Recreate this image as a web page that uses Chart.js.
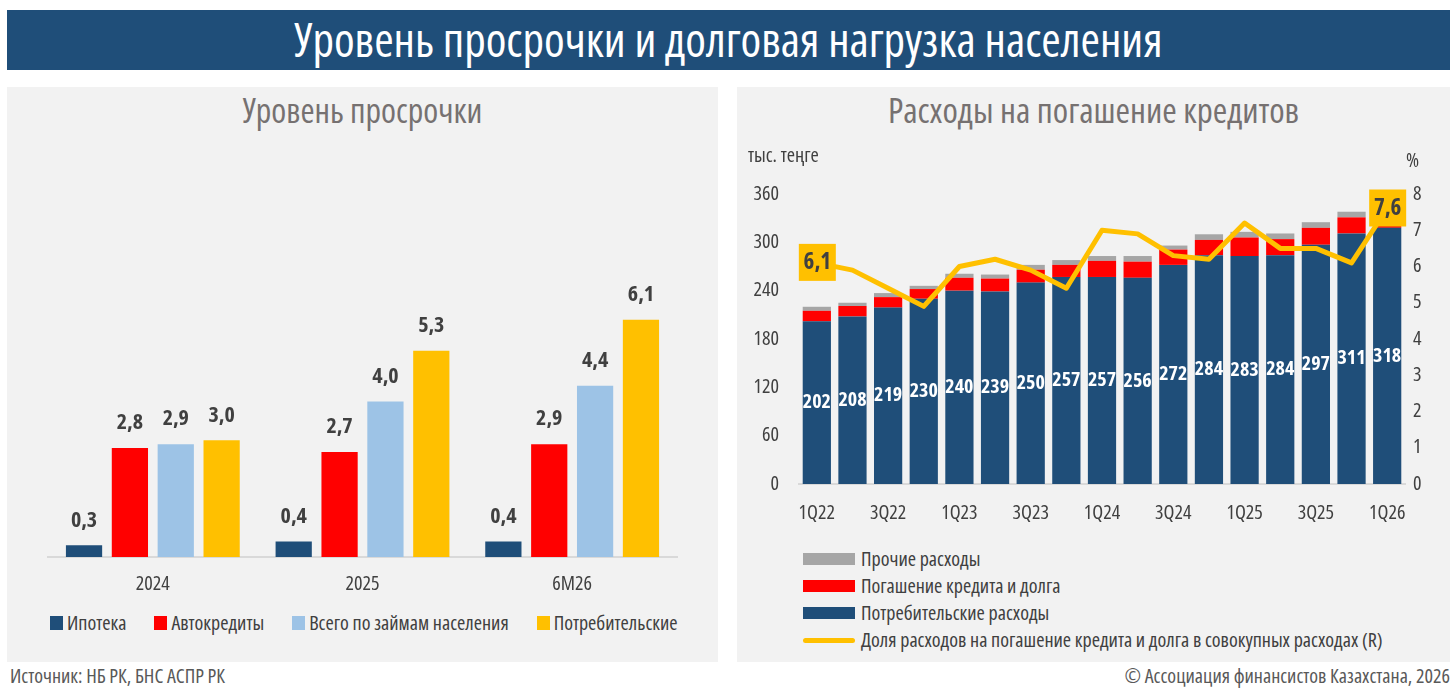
<!DOCTYPE html>
<html lang="ru">
<head>
<meta charset="utf-8">
<script src="https://cdn.jsdelivr.net/npm/chart.js@4.4.1/dist/chart.umd.min.js"></script>
<style>
  body { margin:0; width:1455px; height:688px; background:#fff; position:relative; overflow:hidden;
         font-family:'Open Sans',sans-serif; font-stretch:condensed; }
  .abs { position:absolute; }
  #header { left:7px; top:10px; width:1443px; height:60px; background:#1f4e79; color:#fff;
            font-size:47px; line-height:59px; text-align:center; overflow:hidden; }
  .panel { top:87px; height:575px; background:#f2f2f2; }
  .ptitle { color:#767171; font-size:34px; line-height:40px; text-align:center; width:100%; top:3px; left:0; }
  .lg { font-size:20px; color:#404040; white-space:nowrap; }
  .sw { display:inline-block; vertical-align:middle; }
  .note { font-size:20px; color:#595959; line-height:26px; white-space:nowrap; }
</style>
</head>
<body>
<div id="header" class="abs">Уровень просрочки и долговая нагрузка населения</div>

<div id="left-panel" class="abs panel" style="left:7px;width:711px;">
  <div class="abs ptitle">Уровень просрочки</div>
</div>
<div id="right-panel" class="abs panel" style="left:737px;width:713px;">
  <div class="abs ptitle" style="font-size:35px;">Расходы на погашение кредитов</div>
</div>

<div class="abs" style="left:7px;top:150px;width:711px;height:450px;"><canvas id="c1"></canvas></div>
<div class="abs" style="left:737px;top:140px;width:713px;height:400px;"><canvas id="c2"></canvas></div>

<div class="abs lg" style="left:748px;top:142px;line-height:26px;">тыс. теңге</div>
<div class="abs lg" style="left:1406px;top:147px;line-height:26px;">%</div>

<div id="legend1" class="abs lg" style="left:50px;top:610px;line-height:26px;"></div>
<div id="legend2" class="abs lg" style="left:803px;top:545px;"></div>

<div class="abs note" style="left:10px;top:663px;">Источник: НБ РК, БНС АСПР РК</div>
<div class="abs note" style="right:5px;top:663px;">© Ассоциация финансистов Казахстана, 2026</div>

<script>
var FAMILY = "'Open Sans', sans-serif";
var NORMAL = 'normal condensed';
var BOLD = 'bold condensed';

// left chart: overdue level, %
var years = ['2024', '2025', '6M26'];
var mortgage = [0.3, 0.4, 0.4];
var autoLoans = [2.8, 2.7, 2.9];
var totalLoans = [2.9, 4.0, 4.4];
var consumerLoans = [3.0, 5.3, 6.1];
var leftNames = ['Ипотека', 'Автокредиты', 'Всего по займам населения', 'Потребительские'];
var leftColors = ['#1f4e79', '#ff0000', '#9dc3e6', '#ffc000'];

// right chart: spending, thousand tenge + share, %
var quarters = ['1Q22','2Q22','3Q22','4Q22','1Q23','2Q23','3Q23','4Q23','1Q24','2Q24','3Q24','4Q24','1Q25','2Q25','3Q25','4Q25','1Q26'];
var consumerSpend = [202, 208, 219, 230, 240, 239, 250, 257, 257, 256, 272, 284, 283, 284, 297, 311, 318];
var repayment = [13, 13, 13, 12, 16, 16, 16, 15, 20, 20, 19, 19, 23, 20, 21, 20, 21];
var otherSpend = [5, 4, 5, 4, 5, 5, 6, 6, 6, 7, 5, 7, 7, 7, 7, 7, 7];
var repaymentShare = [6.1, 5.9, 5.4, 4.9, 6.0, 6.2, 5.9, 5.4, 7.0, 6.9, 6.3, 6.2, 7.2, 6.5, 6.5, 6.1, 7.6];
var leftTicks = [0, 60, 120, 180, 240, 300, 360];
var rightTicks = [0, 1, 2, 3, 4, 5, 6, 7, 8];

function fmt(v) { return v.toFixed(1).replace('.', ','); }

// value labels above bars (left chart)
var topLabels = {
  id: 'topLabels',
  afterDatasetsDraw: function(chart) {
    var ctx = chart.ctx;
    ctx.save();
    ctx.font = BOLD + ' 22px ' + FAMILY;
    ctx.fillStyle = '#404040';
    ctx.textAlign = 'center';
    ctx.textBaseline = 'middle';
    chart.data.datasets.forEach(function(ds, i) {
      chart.getDatasetMeta(i).data.forEach(function(bar, j) {
        ctx.fillText(fmt(ds.data[j]), bar.x, bar.y - 25);
      });
    });
    ctx.restore();
  }
};

// white numbers inside blue bars + yellow boxes for first/last line points
var rightLabels = {
  id: 'rightLabels',
  afterDatasetsDraw: function(chart) {
    var ctx = chart.ctx;
    ctx.save();
    ctx.font = BOLD + ' 20px ' + FAMILY;
    ctx.fillStyle = '#ffffff';
    ctx.textAlign = 'center';
    ctx.textBaseline = 'middle';
    chart.getDatasetMeta(0).data.forEach(function(bar, j) {
      ctx.fillText(String(consumerSpend[j]), bar.x, (bar.y + bar.base) / 2);
    });
    var pts = chart.getDatasetMeta(3).data;
    [0, pts.length - 1].forEach(function(j) {
      var p = pts[j];
      ctx.fillStyle = '#ffc000';
      ctx.fillRect(p.x - 18, p.y - 19, 37, 37);
      ctx.fillStyle = '#404040';
      ctx.font = BOLD + ' 23px ' + FAMILY;
      ctx.fillText(fmt(repaymentShare[j]), p.x + 0.5, p.y);
    });
    ctx.restore();
  }
};

Chart.defaults.font.family = FAMILY;
Chart.defaults.font.weight = NORMAL;
Chart.defaults.color = '#404040';

new Chart(document.getElementById('c1'), {
  type: 'bar',
  data: {
    labels: years,
    datasets: [mortgage, autoLoans, totalLoans, consumerLoans].map(function(d, i) {
      return { label: leftNames[i], data: d, backgroundColor: leftColors[i],
               categoryPercentage: 0.875, barPercentage: 0.79 };
    })
  },
  options: {
    responsive: true, maintainAspectRatio: false, animation: false,
    layout: { padding: { left: 41, right: 41, top: 18, bottom: 0 } },
    plugins: { legend: { display: false }, tooltip: { enabled: false } },
    scales: {
      x: {
        grid: { display: false, drawTicks: false },
        border: { display: true, color: '#d9d9d9', width: 2 },
        ticks: { font: { size: 20, weight: NORMAL }, color: '#404040', padding: 15 },
        afterFit: function(s) { s.height = 43; }
      },
      y: { display: false, min: 0, max: 10 }
    }
  },
  plugins: [topLabels]
});

new Chart(document.getElementById('c2'), {
  data: {
    labels: quarters,
    datasets: [
      { type: 'bar', label: 'Потребительские расходы', data: consumerSpend, backgroundColor: '#1f4e79',
        stack: 's', order: 1, categoryPercentage: 0.8, barPercentage: 0.99 },
      { type: 'bar', label: 'Погашение кредита и долга', data: repayment, backgroundColor: '#ff0000',
        stack: 's', order: 1, categoryPercentage: 0.8, barPercentage: 0.99 },
      { type: 'bar', label: 'Прочие расходы', data: otherSpend, backgroundColor: '#a6a6a6',
        stack: 's', order: 1, categoryPercentage: 0.8, barPercentage: 0.99 },
      { type: 'line', label: 'Доля расходов на погашение кредита и долга в совокупных расходах (R)',
        data: repaymentShare, yAxisID: 'y1', borderColor: '#ffc000', borderWidth: 5,
        pointRadius: 0, tension: 0, order: 0, borderJoinStyle: 'round' }
    ]
  },
  options: {
    responsive: true, maintainAspectRatio: false, animation: false,
    layout: { padding: { left: 0, right: 0, top: 54, bottom: 0 } },
    plugins: { legend: { display: false }, tooltip: { enabled: false } },
    scales: {
      x: {
        stacked: true,
        grid: { display: false, drawTicks: false },
        border: { display: true, color: '#d9d9d9', width: 2 },
        ticks: {
          autoSkip: false, maxRotation: 0, font: { size: 20, weight: NORMAL }, color: '#404040', padding: 17,
          callback: function(v, i) { return i % 2 === 0 ? quarters[i] : ''; }
        },
        afterFit: function(s) { s.height = 56; }
      },
      y: {
        stacked: true, min: 0, max: 360,
        grid: { display: false, drawTicks: false }, border: { display: false },
        afterBuildTicks: function(s) { s.ticks = leftTicks.map(function(v) { return { value: v }; }); },
        ticks: { font: { size: 20, weight: NORMAL }, color: '#404040', padding: 20 },
        afterFit: function(s) { s.width = 62; }
      },
      y1: {
        position: 'right', min: 0, max: 8,
        grid: { display: false, drawTicks: false }, border: { display: false },
        afterBuildTicks: function(s) { s.ticks = rightTicks.map(function(v) { return { value: v }; }); },
        ticks: { font: { size: 20, weight: NORMAL }, color: '#404040', padding: 8 },
        afterFit: function(s) { s.width = 45; }
      }
    }
  },
  plugins: [rightLabels]
});

// html legends
var lg1 = document.getElementById('legend1');
leftNames.forEach(function(n, i) {
  var s = document.createElement('span');
  s.style.cssText = 'margin-right:28px;';
  s.innerHTML = '<span class="sw" style="width:13px;height:14px;margin-right:4px;margin-top:-3px;background:' +
    leftColors[i] + '"></span>' + n;
  lg1.appendChild(s);
});

var lg2 = document.getElementById('legend2');
var rightItems = [
  ['Прочие расходы', '#a6a6a6', 'bar'],
  ['Погашение кредита и долга', '#ff0000', 'bar'],
  ['Потребительские расходы', '#1f4e79', 'bar'],
  ['Доля расходов на погашение кредита и долга в совокупных расходах (R)', '#ffc000', 'line']
];
rightItems.forEach(function(it) {
  var row = document.createElement('div');
  row.style.cssText = 'height:27px;line-height:27px;';
  var h = it[2] === 'bar' ? 'height:12px;' : 'height:5px;border-radius:3px;';
  row.innerHTML = '<span class="sw" style="width:52px;margin-right:6px;margin-top:-3px;' + h +
    'background:' + it[1] + '"></span>' + it[0];
  lg2.appendChild(row);
});
</script>
</body>
</html>
